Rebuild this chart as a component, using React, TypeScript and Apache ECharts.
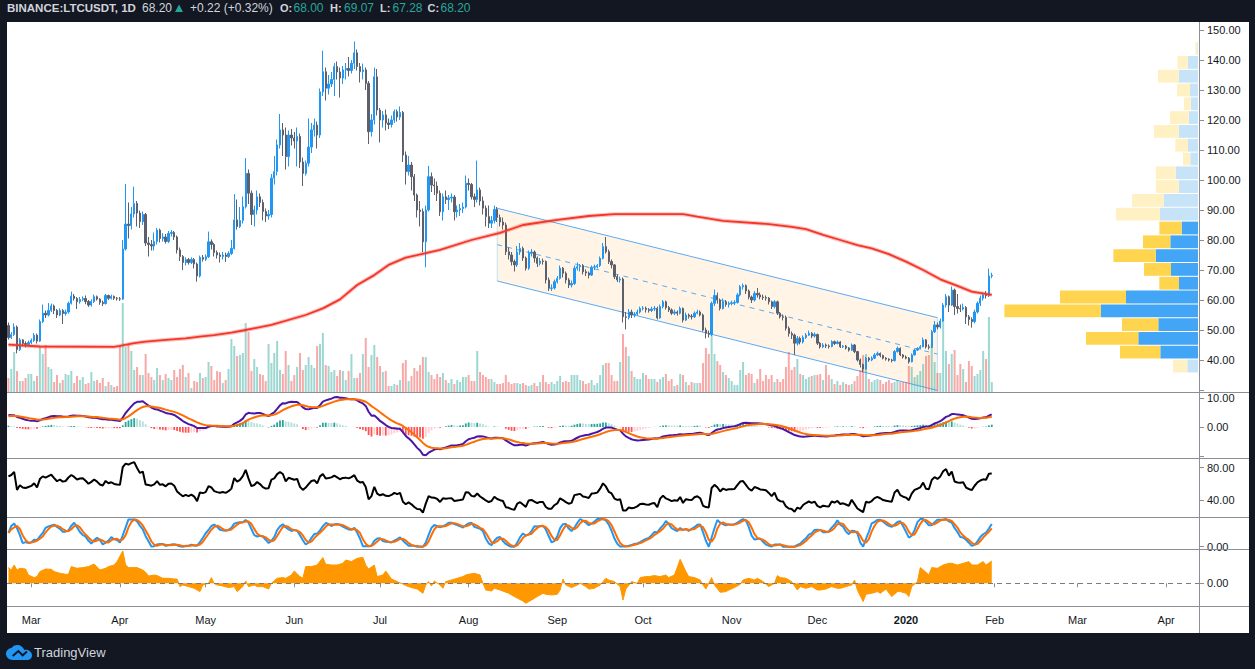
import React, { useEffect, useRef } from "react";
import * as echarts from "echarts";

// ---------- DATA ----------
const FIRST_DAY_UTC = [2019, 1, 21]; // Feb 21 2019 (year, monthIndex, day)
const AXIS_DAYS = 417; // axis runs to Apr 12 2020
const MONTH_NAMES = ["Jan", "Feb", "Mar", "Apr", "May", "Jun", "Jul", "Aug", "Sep", "Oct", "Nov", "Dec"];

const FIRST_OPEN = 51.5;
const closes = [
  47.5, 48.5, 51.0, 43.5, 46.7, 45.5, 45.2, 45.8, 46.5, 48.3,
  46.3, 52.8, 55.6, 55.0, 56.5, 58.0, 56.5, 55.0, 56.5, 55.5,
  56.0, 58.9, 61.3, 60.5, 59.4, 60.2, 60.5, 59.5, 58.3, 59.5,
  61.1, 60.3, 59.2, 58.8, 61.5, 60.6, 61.2, 60.6, 60.4, 60.3,
  77.0, 85.3, 84.8, 88.7, 92.2, 89.0, 86.1, 88.5, 79.0, 78.5,
  78.0, 79.5, 83.3, 80.5, 81.0, 79.5, 82.2, 82.5, 81.0, 76.7,
  74.5, 72.5, 73.5, 72.5, 73.5, 72.0, 68.0, 74.2, 73.6, 74.4,
  79.4, 78.5, 75.8, 75.0, 74.5, 75.0, 74.5, 75.5, 77.2, 86.7,
  84.5, 86.5, 91.1, 102.2, 95.6, 88.5, 90.0, 94.4, 92.5, 89.5,
  88.0, 88.5, 100.6, 102.8, 111.7, 116.7, 115.0, 107.8, 115.0, 114.0,
  113.0, 114.5, 106.0, 102.2, 105.6, 111.0, 116.7, 118.3, 115.0, 129.4,
  136.1, 130.6, 132.0, 133.5, 137.8, 136.0, 134.0, 136.7, 137.2, 136.5,
  138.9, 142.4, 137.8, 136.1, 136.7, 132.2, 116.1, 120.0, 134.4, 123.3,
  120.0, 121.7, 119.0, 118.5, 120.0, 122.8, 121.0, 122.5, 108.3, 102.8,
  105.0, 101.1, 95.0, 90.0, 89.5, 79.4, 90.0, 101.1, 98.3, 98.0,
  95.6, 89.4, 94.4, 93.5, 94.0, 94.3, 89.4, 90.0, 90.5, 91.0,
  98.9, 98.5, 94.4, 93.5, 96.7, 93.0, 90.6, 87.8, 85.6, 86.5,
  90.2, 87.5, 86.0, 85.0, 76.1, 75.0, 72.8, 71.7, 76.0, 77.2,
  74.0, 70.6, 75.6, 76.0, 74.0, 72.2, 73.0, 72.8, 66.7, 63.9,
  64.0, 66.1, 67.2, 70.6, 68.9, 66.7, 65.0, 65.5, 70.6, 71.1,
  71.5, 69.4, 69.0, 68.3, 70.9, 71.1, 71.5, 73.9, 77.8, 76.1,
  72.8, 71.7, 67.8, 66.7, 67.0, 54.4, 54.2, 56.0, 55.0, 55.3,
  56.0, 57.2, 57.3, 56.8, 56.5, 57.0, 57.2, 54.0, 57.8, 59.4,
  57.5, 56.7, 55.6, 56.0, 55.6, 57.2, 53.3, 55.0, 54.6, 54.4,
  55.6, 56.0, 55.0, 50.0, 48.9, 48.6, 58.9, 61.5, 60.0, 57.2,
  59.4, 58.5, 58.9, 59.0, 59.2, 61.7, 64.4, 64.8, 63.0, 61.0,
  60.0, 62.2, 61.7, 61.0, 60.8, 60.6, 59.4, 57.8, 59.4, 55.6,
  54.4, 54.2, 50.6, 48.8, 48.3, 45.6, 47.2, 46.0, 47.5, 48.3,
  48.9, 48.0, 48.5, 45.6, 44.4, 45.0, 44.7, 44.5, 46.1, 45.5,
  46.0, 44.4, 44.6, 44.0, 43.3, 45.0, 42.8, 40.0, 38.5, 37.0,
  40.6, 40.0, 40.6, 41.7, 42.2, 41.5, 40.6, 40.3, 40.0, 39.8,
  42.8, 43.9, 41.7, 41.0, 40.6, 39.4, 41.7, 43.3, 43.8, 44.4,
  46.7, 44.4, 44.2, 49.4, 51.7, 51.0, 53.0, 58.3, 61.1, 58.3,
  63.3, 57.8, 57.2, 57.0, 57.5, 54.4, 53.5, 52.8, 56.0, 58.9,
  60.6, 61.7, 61.5, 68.0, 68.2,
];
const highs = [
  52.5, 49.3, 52.2, 51.5, 47.3, 47.0, 46.2, 46.5, 47.2, 49.0,
  48.8, 53.5, 58.5, 56.5, 59.0, 58.8, 58.5, 57.0, 57.2, 57.0,
  56.8, 59.5, 62.8, 62.0, 61.0, 61.0, 61.2, 61.5, 60.0, 60.2,
  61.8, 61.5, 60.6, 59.8, 62.0, 61.8, 61.8, 61.5, 61.0, 61.0,
  80.0, 98.7, 92.5, 91.0, 97.8, 93.0, 89.8, 89.5, 89.0, 81.0,
  80.0, 82.5, 84.0, 83.8, 82.3, 82.0, 83.0, 83.3, 83.0, 81.5,
  77.5, 75.0, 74.2, 74.0, 74.2, 74.0, 72.5, 74.8, 75.0, 75.2,
  82.8, 80.2, 79.0, 76.5, 75.8, 76.0, 75.8, 76.2, 80.0, 95.3,
  93.5, 91.0, 94.5, 107.3, 103.5, 96.5, 91.5, 96.5, 95.5, 93.5,
  90.5, 90.0, 102.0, 108.0, 113.5, 122.0, 119.0, 117.5, 116.5, 117.0,
  116.0, 117.5, 115.5, 107.5, 106.5, 120.5, 119.0, 120.5, 119.5, 130.5,
  143.1, 137.5, 135.0, 136.0, 139.0, 139.5, 137.5, 138.0, 139.0, 141.0,
  140.0, 146.2, 143.5, 139.0, 138.8, 137.5, 133.0, 122.0, 137.5, 137.0,
  124.0, 123.0, 123.5, 120.5, 121.5, 123.5, 123.5, 124.5, 123.0, 109.5,
  108.0, 106.0, 102.0, 95.5, 93.0, 90.5, 91.5, 104.7, 102.5, 100.5,
  99.5, 96.5, 95.5, 96.5, 95.0, 95.5, 95.0, 91.5, 92.0, 92.5,
  101.5, 100.5, 99.0, 95.5, 106.5, 97.5, 94.5, 91.5, 91.5, 88.0,
  91.5, 91.0, 88.5, 87.5, 85.8, 77.5, 76.0, 73.5, 78.0, 79.0,
  77.8, 74.5, 76.5, 77.0, 76.5, 74.5, 74.0, 73.8, 73.2, 67.5,
  65.2, 66.8, 68.0, 71.5, 71.0, 69.5, 67.3, 66.5, 71.5, 72.5,
  72.0, 72.0, 70.2, 69.5, 71.5, 71.8, 72.0, 74.5, 79.0, 81.0,
  76.8, 73.5, 72.0, 68.5, 67.8, 67.5, 56.0, 57.0, 56.8, 56.0,
  56.8, 57.8, 58.0, 57.8, 57.3, 57.8, 58.0, 57.8, 58.5, 60.0,
  59.8, 58.0, 57.2, 56.8, 56.5, 57.8, 57.5, 55.8, 55.5, 55.3,
  56.2, 56.8, 56.5, 55.5, 50.8, 49.8, 59.5, 63.5, 62.5, 60.5,
  60.5, 60.0, 59.5, 59.8, 60.0, 62.3, 65.0, 65.5, 65.2, 63.5,
  61.5, 63.0, 64.0, 62.5, 61.8, 61.5, 61.0, 59.8, 60.0, 59.8,
  56.0, 55.2, 54.8, 51.2, 49.5, 48.8, 48.0, 47.8, 48.2, 49.0,
  49.8, 49.3, 49.2, 48.8, 46.0, 45.6, 45.5, 45.2, 46.6, 46.5,
  46.5, 46.3, 45.0, 45.0, 44.3, 45.5, 45.3, 43.0, 40.5, 38.8,
  41.0, 41.0, 41.2, 42.3, 42.8, 42.5, 41.8, 41.0, 40.6, 40.4,
  43.3, 44.5, 44.2, 42.0, 41.5, 41.0, 42.2, 43.8, 44.3, 45.0,
  47.5, 47.0, 45.2, 50.0, 53.0, 52.5, 53.8, 59.0, 62.0, 61.5,
  64.5, 63.8, 62.0, 58.5, 58.8, 58.0, 55.0, 54.2, 56.8, 59.5,
  61.5, 62.5, 63.0, 70.5, 69.07,
];
const lows = [
  46.8, 47.0, 48.0, 42.2, 43.0, 44.6, 44.2, 44.8, 45.3, 46.0,
  45.5, 46.0, 52.3, 54.0, 54.5, 56.0, 55.3, 54.0, 54.6, 52.0,
  54.8, 55.5, 58.5, 59.8, 57.0, 58.8, 59.6, 58.6, 57.7, 57.8,
  59.0, 59.8, 58.4, 58.0, 58.5, 60.0, 60.2, 60.0, 59.8, 59.7,
  60.0, 76.5, 80.5, 83.5, 87.5, 84.5, 84.0, 85.0, 78.0, 74.5,
  76.5, 76.5, 78.5, 79.2, 79.5, 78.8, 79.0, 81.2, 80.0, 75.5,
  73.0, 70.0, 71.5, 71.8, 72.0, 70.5, 66.1, 67.5, 72.8, 73.0,
  74.0, 76.8, 74.5, 73.8, 72.5, 73.5, 72.7, 74.0, 75.0, 76.8,
  83.5, 84.0, 85.5, 90.5, 92.0, 85.0, 84.5, 88.5, 91.0, 86.5,
  86.0, 86.8, 87.5, 98.5, 101.5, 110.5, 108.0, 103.5, 104.5, 111.5,
  110.5, 104.5, 104.0, 98.0, 101.5, 104.5, 109.0, 114.5, 110.5, 114.0,
  128.0, 126.5, 128.5, 131.0, 128.0, 133.5, 127.5, 132.0, 133.5, 134.5,
  135.5, 137.0, 136.5, 132.5, 133.5, 130.0, 112.0, 114.5, 118.5, 121.5,
  112.5, 117.5, 116.5, 117.0, 117.5, 119.0, 119.5, 120.0, 106.0, 98.5,
  101.5, 96.5, 93.0, 87.5, 84.5, 76.0, 70.9, 89.5, 96.0, 95.0,
  93.0, 88.0, 86.5, 92.0, 90.0, 92.5, 86.5, 87.5, 88.0, 89.0,
  90.5, 96.5, 93.5, 91.0, 92.5, 91.5, 88.5, 84.5, 84.0, 84.0,
  85.5, 86.0, 84.5, 83.5, 75.0, 73.5, 71.5, 69.5, 71.0, 75.0,
  73.0, 69.8, 70.0, 74.5, 72.5, 71.0, 71.5, 71.8, 65.5, 63.0,
  63.0, 63.5, 65.5, 66.8, 67.5, 65.5, 64.0, 64.2, 65.0, 69.8,
  69.5, 68.5, 68.0, 67.2, 68.0, 70.0, 70.5, 71.0, 73.5, 75.5,
  72.0, 70.5, 67.0, 66.0, 65.8, 52.5, 50.2, 53.5, 54.0, 54.2,
  54.8, 55.5, 56.5, 55.8, 55.8, 56.0, 56.3, 53.5, 53.8, 57.2,
  56.8, 56.0, 55.0, 55.0, 54.8, 55.2, 52.5, 53.0, 53.8, 53.5,
  54.0, 55.2, 54.5, 49.5, 47.2, 47.5, 48.0, 58.0, 58.8, 56.5,
  56.8, 57.8, 57.5, 58.2, 58.3, 58.8, 61.2, 63.5, 62.0, 60.2,
  59.0, 59.5, 60.8, 60.2, 60.0, 59.8, 58.5, 57.0, 57.2, 55.0,
  53.8, 53.2, 49.8, 47.8, 47.0, 41.7, 44.8, 45.2, 45.5, 47.0,
  48.0, 47.3, 47.5, 45.0, 43.8, 44.0, 44.0, 43.8, 44.2, 45.0,
  45.2, 44.0, 44.0, 43.5, 42.8, 43.0, 42.3, 39.5, 37.5, 35.9,
  36.8, 39.4, 39.6, 40.3, 41.3, 40.9, 40.2, 39.8, 39.5, 39.2,
  39.5, 42.5, 41.3, 40.5, 40.2, 38.8, 39.2, 41.5, 43.0, 43.5,
  44.2, 43.8, 43.5, 44.0, 49.0, 50.2, 50.5, 52.8, 57.5, 56.0,
  58.0, 55.0, 55.5, 56.0, 56.5, 52.0, 51.5, 50.8, 52.2, 55.5,
  58.0, 59.8, 60.5, 61.0, 67.28,
];
const volumes = [
  14, 23, 40, 21, 11, 11, 14, 18, 18, 11, 16, 45, 38, 47, 25, 23, 10, 17, 9, 12,
  18, 17, 21, 9, 16, 12, 15, 8, 9, 20, 11, 12, 9, 14, 6, 10, 7, 5, 6, 47,
  89, 45, 47, 41, 22, 25, 17, 17, 38, 19, 15, 12, 24, 17, 12, 18, 14, 12, 22, 15,
  23, 27, 15, 19, 4, 11, 10, 19, 14, 15, 30, 26, 12, 21, 20, 9, 12, 23, 53, 46,
  36, 37, 39, 69, 60, 21, 33, 25, 18, 17, 11, 48, 29, 39, 51, 22, 18, 41, 27, 11,
  17, 25, 39, 22, 27, 35, 27, 24, 46, 48, 59, 27, 26, 20, 22, 16, 22, 21, 12, 21,
  38, 14, 14, 19, 38, 54, 25, 37, 47, 35, 26, 20, 21, 6, 6, 8, 7, 12, 29, 32,
  11, 16, 24, 21, 27, 35, 35, 20, 17, 13, 18, 15, 19, 12, 9, 13, 8, 12, 10, 15,
  15, 17, 11, 11, 41, 20, 17, 15, 13, 13, 10, 8, 8, 9, 17, 10, 8, 9, 9, 8,
  9, 7, 6, 7, 9, 6, 10, 17, 10, 8, 10, 8, 11, 16, 10, 11, 10, 17, 17, 17,
  12, 11, 8, 9, 12, 7, 9, 17, 27, 29, 29, 17, 11, 11, 30, 58, 45, 36, 21, 15,
  13, 13, 19, 17, 13, 13, 13, 10, 13, 15, 18, 11, 13, 6, 7, 18, 17, 10, 7, 10,
  9, 9, 9, 29, 44, 38, 58, 38, 31, 27, 20, 17, 14, 11, 7, 7, 22, 30, 17, 19,
  18, 9, 13, 23, 11, 17, 13, 17, 10, 13, 10, 13, 25, 40, 22, 25, 33, 18, 17, 13,
  15, 16, 17, 17, 18, 12, 27, 17, 13, 8, 11, 7, 10, 8, 7, 8, 11, 16, 22, 37,
  38, 13, 10, 12, 13, 12, 8, 10, 12, 9, 10, 12, 10, 10, 10, 26, 25, 15, 17, 21,
  28, 36, 37, 48, 30, 19, 19, 75, 41, 28, 38, 42, 17, 28, 23, 10, 31, 26, 16, 18,
  22, 41, 33, 75, 10,
];

// 200-day moving average (day index, value)
const ma200Days = [0, 11, 37, 39, 44, 48, 55, 62, 67, 72, 78, 83, 92, 104, 110, 116, 122, 128, 133, 139, 151, 162, 172, 180, 192, 203, 212, 236, 241, 250, 266, 274, 279, 285, 291, 297, 302, 308, 314, 320, 326, 332, 337, 344];
const ma200Values = [45.1, 44.5, 44.4, 44.7, 45.6, 46.1, 46.7, 47.2, 47.8, 48.3, 49.1, 50.0, 51.7, 55.0, 57.2, 60.2, 65.0, 68.3, 71.7, 74.1, 76.7, 80.0, 82.4, 85.0, 86.7, 88.0, 88.6, 88.6, 87.8, 86.4, 85.3, 84.4, 83.6, 81.7, 80.0, 78.3, 77.2, 75.3, 72.8, 70.0, 66.9, 64.7, 62.8, 61.7];

// bottom orange oscillator (day index, value)
const oscDays = [0, 1, 2, 3, 4, 6, 7, 9, 10, 11, 13, 15, 16, 18, 20, 21, 22, 24, 26, 28, 30, 32, 34, 35, 37, 38, 40, 41, 42, 45, 47, 48, 49, 51, 52, 54, 56, 58, 59, 60, 61, 63, 65, 67, 68, 70, 71, 72, 73, 75, 77, 79, 80, 82, 83, 84, 86, 87, 89, 91, 92, 94, 96, 97, 99, 100, 102, 103, 104, 106, 108, 110, 111, 113, 115, 117, 118, 120, 122, 124, 125, 126, 128, 129, 131, 132, 134, 136, 138, 139, 141, 143, 145, 146, 147, 148, 149, 151, 152, 153, 155, 157, 159, 160, 161, 163, 165, 166, 167, 169, 170, 172, 175, 177, 180, 181, 183, 185, 187, 188, 190, 192, 193, 194, 195, 197, 199, 200, 202, 203, 205, 207, 209, 210, 212, 214, 215, 216, 218, 220, 221, 223, 224, 226, 228, 230, 231, 233, 235, 237, 238, 240, 242, 243, 244, 246, 247, 249, 251, 252, 254, 256, 257, 259, 261, 262, 264, 266, 268, 269, 270, 272, 274, 276, 277, 279, 281, 283, 284, 286, 288, 290, 291, 293, 295, 296, 297, 299, 300, 302, 304, 305, 307, 309, 311, 312, 314, 315, 316, 318, 319, 321, 322, 323, 325, 327, 329, 330, 332, 334, 336, 337, 339, 341, 342, 344];
const oscValues = [15.7, 13.3, 18.3, 13.3, 15, 14.3, 8.3, 5.7, 6.7, 11.7, 14.3, 14, 11.7, 10, 9, 9, 16.7, 15, 15.7, 16.7, 19.3, 13.3, 15, 16.7, 18.3, 21.7, 32.3, 18.3, 15.7, 15.7, 13.3, 11, 7.3, 8.3, 7.7, 5, 5, 4.3, 4.3, -3.3, -1.7, -3.3, -5, -8.3, -1.7, 0, 5.7, -0.3, -1.7, -2.7, -4.3, -3.3, -8.3, -3.3, 2.3, -3.3, -1.7, -3.3, -3.3, -5.7, 0, 5, 5.7, 5, 8.3, 12.3, 6.7, 5, 16.7, 16.7, 18.3, 25.7, 19, 18.3, 18.3, 20, 23.3, 21.7, 25, 26, 18.3, 14.3, 18.3, 6.7, 8.3, 12.3, 4.3, 1.7, -0.7, -2.3, -4.3, -5.7, -10, -1.7, 1.7, -2.7, 2.3, -1.7, -5, 1.7, 3.3, 5, 6.7, 8.3, 9, 10, 8.3, 0, -6.7, -7.7, -5, -6.7, -10, -13.3, -17.7, -20, -16.7, -13.3, -10, -11, -11.7, -11, -6.7, 4.3, -1.7, -4.3, -1.7, 0, -3.3, -5.7, -5, -1.7, 5, 3.3, 1.7, -3.3, -16.7, -5.7, 1.7, 0, 5.7, 6.7, 6.7, 7.7, 6.7, 8.3, 5.7, 8.3, 24, 11.7, 6.7, 5.7, 3.3, -1.7, -5.7, 5.7, -1.7, -9, -8.3, -6.7, -4.3, -1, 3.3, 5, 3.3, 5, 1.7, -3.3, 0, 7.7, 5.7, 5, 1.7, -6.7, -3.3, -5, -3.3, -6.7, -6.7, -5.7, -3.3, -5, -5, -3.3, -1.7, 3.3, -6.7, -18.3, -11, -10, -8.3, -10, -5.7, -13.3, -8.3, -8.3, -10, -13.3, -3.3, 1.7, 15.7, 11, 8.3, 15.7, 15, 18.3, 20, 20, 18.3, 20, 21.7, 18.3, 18.3, 21.7, 18.3, 22.3];

// volume profile rows (bottom price of each row), up / down volume, value-area flag
const PROFILE_ROW = 4.6;
const profileLows = [35.7, 40.3, 44.9, 49.5, 54.1, 58.7, 63.3, 67.9, 72.5, 77.1, 81.7, 86.3, 90.9, 95.5, 100.1, 104.7, 109.3, 113.9, 118.5, 123.1, 127.7, 132.3, 136.9, 141.5];
const profileUp = [11.7, 38.7, 60.7, 40.7, 98.3, 73, 20, 28, 43.3, 28.7, 17.3, 39, 35, 20, 23.3, 8.7, 11, 20.3, 10.3, 8.3, 9, 20.3, 11.3, 1.7];
const profileDown = [14.3, 40.3, 52.3, 36.3, 96.3, 66, 19.7, 27, 42.3, 27.3, 22.3, 44, 32, 23, 20, 7.3, 12.7, 24.7, 18.7, 6.7, 13, 20.7, 10.3, 2];
const profileValueArea = [0, 1, 1, 1, 1, 1, 1, 1, 1, 1, 1, 0, 0, 0, 0, 0, 0, 0, 0, 0, 0, 0, 0, 0];

// descending channel: [startDay, upperStart, lowerStart, endDay, upperEnd, lowerEnd]
const channelLine = [171, 90.57, 66.33, 325, 54.1, 29.86];

// indicator seeds (state before the first visible day)
const MACD_SEED = [46.3, 41.9, 3.6]; // ema12, ema26, signal
const RSI_SEED = [0.9, 0.4]; // avg gain, avg loss

const priceLabelTicks = [40, 50, 60, 70, 80, 90, 100, 110, 120, 130, 140, 150];
const priceTickMarks = [30, 40, 50, 60, 70, 80, 90, 100, 110, 120, 130, 140, 150];
const macdLabelTicks = [10, 0];
const macdTickMarks = [10, 0, -10];
const rsiTicks = [80, 40];
const zeroTick = [0];

// ---------- STYLE ----------
const DARK = "#131722";
const TEAL = "#26a69a";
const SEP = "#8b8e96";
const FONT = "Liberation Sans";
const UP = "#2196f3";
const DOWN = "#5d606b";

const TV_CLOUD =
  "M7 15C3.1 15 0 12.2 0 8.8C0 5.7 2.4 3.2 5.5 2.9C6.8 1.1 8.9 0 11.2 0C14.5 0 17.3 2.1 18.2 5C18.8 4.8 19.4 4.7 20 4.7C23.3 4.7 26 7.2 26 10.2C26 12.9 23.8 15 21 15Z";
echarts.graphic.registerShape("tvcloud", echarts.graphic.extendPath(TV_CLOUD, {}));

function buildOption() {
  const categories: string[] = [];
  for (let k = 0; k < AXIS_DAYS; k++) {
    const d = new Date(Date.UTC(FIRST_DAY_UTC[0], FIRST_DAY_UTC[1], FIRST_DAY_UTC[2] + k));
    categories.push(d.toISOString().slice(0, 10));
  }
  const opens = closes.map((c, i) => (i === 0 ? FIRST_OPEN : closes[i - 1]));
  const candles = closes.map((c, i) => [
    opens[i],
    c,
    Math.min(lows[i], opens[i], c),
    Math.max(highs[i], opens[i], c),
  ]);
  const vol = volumes.map((v, i) => ({
    value: v,
    itemStyle: { color: closes[i] >= opens[i] ? "rgba(38,166,154,0.45)" : "rgba(239,83,80,0.5)" },
  }));

  // MACD 12/26/9
  let e12 = MACD_SEED[0];
  let e26 = MACD_SEED[1];
  let sig = MACD_SEED[2];
  const macd: number[] = [];
  const signal: number[] = [];
  const hist: number[] = [];
  closes.forEach((c) => {
    e12 += ((c - e12) * 2) / 13;
    e26 += ((c - e26) * 2) / 27;
    const m = e12 - e26;
    sig += (m - sig) * 0.2;
    macd.push(+m.toFixed(3));
    signal.push(+sig.toFixed(3));
    hist.push(m - sig);
  });
  const histData = hist.map((h, i) => {
    const prev = i > 0 ? hist[i - 1] : h;
    let color;
    if (h >= 0) color = h >= prev ? "#26a69a" : "#b2dfdb";
    else color = h <= prev ? "#ff5252" : "#ffcdd2";
    return { value: +h.toFixed(3), itemStyle: { color } };
  });

  // RSI 14
  let ag = RSI_SEED[0];
  let al = RSI_SEED[1];
  const rsi: number[] = [];
  closes.forEach((c, i) => {
    if (i > 0) {
      const ch = c - closes[i - 1];
      ag = (ag * 13 + Math.max(ch, 0)) / 14;
      al = (al * 13 + Math.max(-ch, 0)) / 14;
    }
    rsi.push(100 - 100 / (1 + ag / al));
  });
  // Stoch RSI 14,14,3,3
  const stoch = rsi.map((r, i) => {
    const w = rsi.slice(Math.max(0, i - 13), i + 1);
    const lo = Math.min(...w);
    const hi = Math.max(...w);
    return hi > lo ? ((r - lo) / (hi - lo)) * 100 : 50;
  });
  const sma3 = (a: number[]) =>
    a.map((_, i) => {
      const w = a.slice(Math.max(0, i - 2), i + 1);
      return w.reduce((s, x) => s + x, 0) / w.length;
    });
  const kLine = sma3(stoch);
  const dLine = sma3(kLine);

  const ma200 = ma200Days.map((d, i) => [d, ma200Values[i]]);
  const osc = oscDays.map((d, i) => [d, oscValues[i]]);
  const profile = profileLows.map((lo, i) => [lo, profileUp[i], profileDown[i], profileValueArea[i]]);

  const L = 7;
  const R = 56;
  const grids = [
    { left: L, right: R, top: 30, height: 360 }, // 0 price
    { left: L, right: R, top: 30, height: 362 }, // 1 volume
    { left: L, right: R, top: 30, height: 360 }, // 2 profile
    { left: L, right: R, top: 392, height: 66 }, // 3 macd
    { left: L, right: R, top: 458, height: 59 }, // 4 rsi
    { left: L, right: R, top: 517, height: 32 }, // 5 stoch
    { left: L, right: R, top: 549, height: 57 }, // 6 oscillator
  ];
  const isMonthStart = (_: number, v: string) => v.slice(8) === "01";
  const hiddenCat = (gi: number) => ({
    type: "category",
    gridIndex: gi,
    data: categories,
    boundaryGap: true,
    show: false,
  });
  const xAxes: any[] = [
    hiddenCat(0),
    hiddenCat(1),
    { type: "value", gridIndex: 2, inverse: true, min: 0, max: 1192, show: false },
    hiddenCat(3),
    hiddenCat(4),
    hiddenCat(5),
    {
      type: "category",
      gridIndex: 6,
      data: categories,
      boundaryGap: true,
      axisLine: { show: false },
      axisTick: { show: true, alignWithLabel: true, interval: isMonthStart, length: 4, lineStyle: { color: SEP } },
      axisLabel: {
        interval: isMonthStart,
        margin: 8,
        color: DARK,
        fontSize: 11,
        fontFamily: FONT,
        formatter: (v: string) => {
          const m = +v.slice(5, 7);
          if (m === 1) return "{yr|" + v.slice(0, 4) + "}";
          return MONTH_NAMES[m - 1];
        },
        rich: { yr: { fontWeight: "bold", fontSize: 11, fontFamily: FONT, color: DARK } },
      },
      splitLine: { show: false },
    },
  ];
  const valAxis = (gi: number, min: number, max: number, labels: number[] | null, ticks: number[] | null) => {
    if (!labels) return { type: "value", gridIndex: gi, min, max, show: false };
    return {
      type: "value",
      gridIndex: gi,
      min,
      max,
      position: "right",
      axisLine: { show: false },
      splitLine: { show: false },
      axisTick: { show: true, length: 5, lineStyle: { color: SEP }, customValues: ticks },
      axisLabel: {
        show: true,
        margin: 8,
        color: DARK,
        fontSize: 11,
        fontFamily: FONT,
        customValues: labels,
        formatter: (v: number) => v.toFixed(2),
      },
    };
  };
  const yAxes: any[] = [
    valAxis(0, 30, 150, priceLabelTicks, priceTickMarks),
    valAxis(1, 0, 362, null, null),
    valAxis(2, 30, 150, null, null),
    valAxis(3, -10.69, 12.07, macdLabelTicks, macdTickMarks),
    valAxis(4, 18.95, 92.0, rsiTicks, rsiTicks),
    valAxis(5, -8.3, 107.2, zeroTick, zeroTick),
    valAxis(6, -22.7, 34.3, zeroTick, zeroTick),
  ];

  const lineS = (xi: number, data: any, color: string, width: number, z = 3) => ({
    type: "line",
    xAxisIndex: xi,
    yAxisIndex: xi,
    data,
    showSymbol: false,
    symbol: "none",
    silent: true,
    z,
    lineStyle: { color, width },
  });

  const series: any[] = [
    {
      type: "custom",
      xAxisIndex: 0,
      yAxisIndex: 0,
      z: 1,
      silent: true,
      data: [channelLine],
      renderItem: (_p: any, api: any) => {
        const a = api.coord([api.value(0), api.value(1)]);
        const d = api.coord([api.value(0), api.value(2)]);
        const b = api.coord([api.value(3), api.value(4)]);
        const c = api.coord([api.value(3), api.value(5)]);
        const m1 = [(a[0] + d[0]) / 2, (a[1] + d[1]) / 2];
        const m2 = [(b[0] + c[0]) / 2, (b[1] + c[1]) / 2];
        const stroke = "#5aabf2";
        return {
          type: "group",
          children: [
            { type: "polygon", shape: { points: [a, b, c, d] }, style: { fill: "rgba(255,152,0,0.1)" } },
            { type: "line", shape: { x1: a[0], y1: a[1], x2: d[0], y2: d[1] }, style: { stroke: "rgba(33,150,243,0.25)", lineWidth: 1 } },
            { type: "line", shape: { x1: b[0], y1: b[1], x2: c[0], y2: c[1] }, style: { stroke: "rgba(33,150,243,0.25)", lineWidth: 1 } },
            { type: "line", shape: { x1: a[0], y1: a[1], x2: b[0], y2: b[1] }, style: { stroke, lineWidth: 1 } },
            { type: "line", shape: { x1: d[0], y1: d[1], x2: c[0], y2: c[1] }, style: { stroke, lineWidth: 1 } },
            { type: "line", shape: { x1: m1[0], y1: m1[1], x2: m2[0], y2: m2[1] }, style: { stroke, lineWidth: 1, lineDash: [5, 5] } },
          ],
        };
      },
    },
    {
      type: "bar",
      xAxisIndex: 1,
      yAxisIndex: 1,
      data: vol,
      barWidth: 2,
      silent: true,
      z: 1,
    },
    {
      type: "candlestick",
      xAxisIndex: 0,
      yAxisIndex: 0,
      data: candles,
      barWidth: 1.8,
      silent: true,
      z: 2,
      itemStyle: { color: UP, color0: DOWN, borderColor: UP, borderColor0: DOWN, borderWidth: 1 },
    },
    { ...lineS(0, ma200, "rgba(244,54,36,0.3)", 4), z: 3 },
    { ...lineS(0, ma200, "#f4362a", 1.8), z: 3 },
    {
      type: "custom",
      xAxisIndex: 2,
      yAxisIndex: 2,
      z: 4,
      silent: true,
      data: profile,
      renderItem: (_p: any, api: any) => {
        const lo = api.value(0);
        const up = api.value(1);
        const dn = api.value(2);
        const va = api.value(3);
        const right = api.coord([0, lo + PROFILE_ROW]);
        const mid = api.coord([up, lo]);
        const left = api.coord([up + dn, lo]);
        const top = right[1] + 0.5;
        const h = mid[1] - 0.5 - top;
        return {
          type: "group",
          children: [
            { type: "rect", shape: { x: mid[0], y: top, width: right[0] - 1 - mid[0], height: h }, style: { fill: va ? "#42a5f5" : "#c6e3f7" } },
            { type: "rect", shape: { x: left[0], y: top, width: mid[0] - left[0], height: h }, style: { fill: va ? "#ffd54f" : "#fff1c4" } },
          ],
        };
      },
    },
    // MACD
    { type: "bar", xAxisIndex: 3, yAxisIndex: 3, data: histData, barWidth: 1.8, silent: true, z: 2 },
    lineS(3, macd, "#4a17a5", 2),
    lineS(3, signal, "#ff6d00", 2),
    // RSI
    lineS(4, rsi.map((v) => +v.toFixed(2)), "#000000", 2),
    // Stoch RSI
    lineS(5, kLine.map((v) => +v.toFixed(2)), "#2196f3", 2),
    lineS(5, dLine.map((v) => +v.toFixed(2)), "#ff6d00", 2),
    // oscillator
    {
      ...lineS(6, osc, "#ff9800", 1),
      areaStyle: { color: "#ff9800", opacity: 1, origin: 0 },
      markLine: {
        silent: true,
        symbol: "none",
        label: { show: false },
        lineStyle: { color: "#787b86", type: [5, 4], width: 1 },
        data: [{ yAxis: 0 }],
      },
    },
  ];

  const txt = (x: number, y: number, text: string, fill: string, size: number, weight = "normal") => ({
    type: "text",
    x,
    y,
    silent: true,
    z: 101,
    style: { text, fill, fontSize: size, fontWeight: weight, fontFamily: FONT, verticalAlign: "middle" },
  });
  const rect = (x: number, y: number, w: number, h: number) => ({
    type: "rect",
    silent: true,
    z: 100,
    shape: { x, y, width: w, height: h },
    style: { fill: DARK },
  });
  const hline = (y: number) => ({
    type: "line",
    silent: true,
    z: 90,
    shape: { x1: 7, y1: y, x2: 1249, y2: y },
    style: { stroke: SEP, lineWidth: 1 },
  });

  const graphic: any[] = [
    rect(0, 0, 1255, 22),
    rect(0, 0, 7, 669),
    rect(1249, 0, 6, 669),
    rect(0, 633, 1255, 36),
    hline(392.5),
    hline(458.5),
    hline(517.5),
    hline(549.5),
    hline(606.5),
    { type: "line", silent: true, z: 90, shape: { x1: 1199.5, y1: 22, x2: 1199.5, y2: 633 }, style: { stroke: SEP, lineWidth: 1 } },
    txt(7, 8, "BINANCE:LTCUSDT, 1D", "#d1d4dc", 11.5, "bold"),
    txt(142, 8, "68.20", "#d1d4dc", 12),
    { type: "polygon", silent: true, z: 101, shape: { points: [[175, 12], [179, 4.5], [183, 12]] }, style: { fill: TEAL } },
    txt(190, 8, "+0.22 (+0.32%)", "#d1d4dc", 12),
    txt(280, 8, "O:", "#d1d4dc", 11, "bold"),
    txt(293.5, 8, "68.00", TEAL, 12),
    txt(330, 8, "H:", "#d1d4dc", 11, "bold"),
    txt(344, 8, "69.07", TEAL, 12),
    txt(380, 8, "L:", "#d1d4dc", 11, "bold"),
    txt(392.5, 8, "67.28", TEAL, 12),
    txt(427.5, 8, "C:", "#d1d4dc", 11, "bold"),
    txt(440.5, 8, "68.20", TEAL, 12),
    {
      type: "group",
      x: 6,
      y: 645,
      z: 101,
      silent: true,
      children: [
        { type: "tvcloud", z: 101, style: { fill: "#2196f3" } },
        {
          type: "polyline",
          z: 102,
          shape: { points: [[6.7, 11], [12.3, 6], [16.7, 10.3], [21, 6.5]] },
          style: { stroke: DARK, lineWidth: 2, fill: null },
        },
      ],
    },
    txt(34, 652, "TradingView", "#d1d4dc", 13),
  ];

  return {
    animation: false,
    backgroundColor: "#ffffff",
    textStyle: { fontFamily: FONT },
    grid: grids,
    xAxis: xAxes,
    yAxis: yAxes,
    series,
    graphic,
  };
}

export default function App() {
  const ref = useRef<HTMLDivElement>(null);
  useEffect(() => {
    if (!ref.current) return;
    const chart = echarts.init(ref.current, null, { renderer: "svg", width: 1255, height: 669 });
    chart.setOption(buildOption() as any);
    return () => chart.dispose();
  }, []);
  return <div ref={ref} style={{ position: "fixed", left: 0, top: 0, width: 1255, height: 669 }} />;
}
